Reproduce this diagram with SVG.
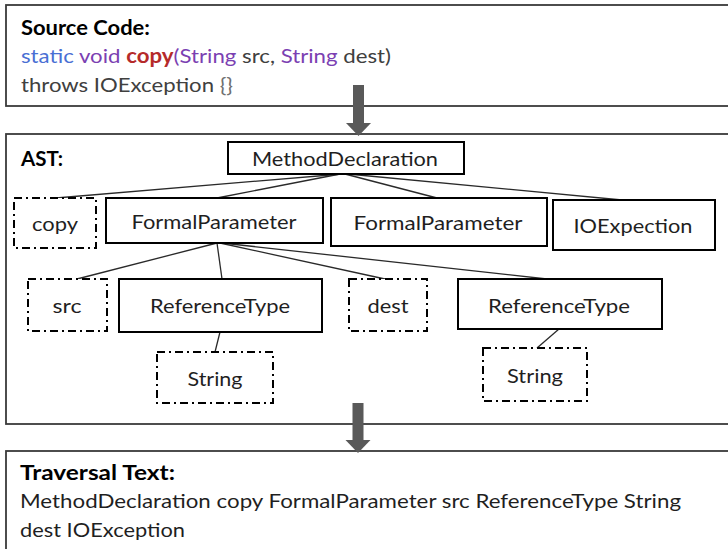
<svg xmlns="http://www.w3.org/2000/svg" width="728" height="549" viewBox="0 0 728 549">
<defs>
<style>
.panel{fill:#fff;stroke:#3a3a3a;stroke-width:1.8}
.node{fill:#fff;stroke:#000;stroke-width:2}
.leaf{fill:#fff;stroke:#000;stroke-width:2;stroke-dasharray:8 4 2 4}
.edge{stroke:#2a2a2a;stroke-width:1.3;fill:none}
.arrow{fill:#595959}
text{font-family:Lato,"Open Sans","Liberation Sans",sans-serif;font-size:20px;fill:#1f1f1f}
.lbl{text-anchor:middle}
.head{font-weight:bold;fill:#000}
</style>
</defs>
<rect width="728" height="549" fill="#fff"/>

<g id="source-panel">
<rect class="panel" x="6" y="5" width="726" height="101"/>
<text class="head" x="21" y="35" textLength="129" lengthAdjust="spacingAndGlyphs">Source Code:</text>
<text x="21" y="63" textLength="370" lengthAdjust="spacingAndGlyphs"><tspan fill="#4a6fd4">static</tspan> <tspan fill="#7b3fb2">void</tspan> <tspan fill="#b52a2a" font-weight="bold">copy</tspan><tspan fill="#7b3fb2">(String</tspan><tspan fill="#404040"> src, </tspan><tspan fill="#7b3fb2">String</tspan><tspan fill="#404040"> dest)</tspan></text>
<text x="21" y="92" fill="#404040" textLength="212" lengthAdjust="spacingAndGlyphs"><tspan fill="#404040">throws IOException </tspan><tspan fill="#707070">{}</tspan></text>
</g>

<g id="ast-panel">
<rect class="panel" x="6" y="134" width="726" height="290"/>
<text class="head" x="21" y="166" textLength="42" lengthAdjust="spacingAndGlyphs">AST:</text>
</g>

<g id="traversal-panel">
<rect class="panel" x="6" y="451" width="726" height="103"/>
<text class="head" x="20" y="480" textLength="155" lengthAdjust="spacingAndGlyphs">Traversal Text:</text>
<text x="20" y="508" fill="#2a2a2a" textLength="661" lengthAdjust="spacingAndGlyphs">MethodDeclaration copy FormalParameter src ReferenceType String</text>
<text x="20" y="537" fill="#2a2a2a" textLength="165" lengthAdjust="spacingAndGlyphs">dest IOException</text>
</g>

<g id="arrows">
<rect class="arrow" x="353" y="85" width="11" height="38"/>
<polygon class="arrow" points="346,123 371,123 358.5,136"/>
<rect class="arrow" x="352.5" y="403" width="11" height="38"/>
<polygon class="arrow" points="345.5,440 370.5,440 358,453"/>
</g>

<g id="connectors">
<line class="edge" x1="342" y1="174" x2="56" y2="198"/>
<line class="edge" x1="340" y1="174" x2="217" y2="198"/>
<line class="edge" x1="345" y1="174" x2="437" y2="198"/>
<line class="edge" x1="348" y1="174" x2="622" y2="200"/>
<line class="edge" x1="217" y1="243" x2="77" y2="279"/>
<line class="edge" x1="217" y1="243" x2="222" y2="279"/>
<line class="edge" x1="220" y1="243" x2="385" y2="279"/>
<line class="edge" x1="222" y1="243" x2="547" y2="279"/>
<line class="edge" x1="220" y1="332" x2="215" y2="352"/>
<line class="edge" x1="559" y1="329" x2="537" y2="348"/>
</g>

<g id="n-methoddeclaration">
<rect class="node" x="228" y="142" width="236" height="32"/>
<text class="lbl" x="345" y="166" textLength="186" lengthAdjust="spacingAndGlyphs">MethodDeclaration</text>
</g>
<g id="n-copy">
<rect class="leaf" x="14" y="198" width="82" height="50"/>
<text class="lbl" x="55" y="231" textLength="46" lengthAdjust="spacingAndGlyphs">copy</text>
</g>
<g id="n-formalparameter1">
<rect class="node" x="106" y="198" width="217" height="45"/>
<text class="lbl" x="214" y="229" textLength="165" lengthAdjust="spacingAndGlyphs">FormalParameter</text>
</g>
<g id="n-formalparameter2">
<rect class="node" x="331" y="198" width="216" height="48"/>
<text class="lbl" x="438" y="230" textLength="169" lengthAdjust="spacingAndGlyphs">FormalParameter</text>
</g>
<g id="n-ioexpection">
<rect class="node" x="553" y="200" width="162" height="50"/>
<text class="lbl" x="633" y="233" textLength="119" lengthAdjust="spacingAndGlyphs">IOExpection</text>
</g>
<g id="n-src">
<rect class="leaf" x="28" y="279" width="79" height="52"/>
<text class="lbl" x="67" y="313" textLength="29" lengthAdjust="spacingAndGlyphs">src</text>
</g>
<g id="n-referencetype1">
<rect class="node" x="119" y="279" width="203" height="53"/>
<text class="lbl" x="220" y="313" textLength="140" lengthAdjust="spacingAndGlyphs">ReferenceType</text>
</g>
<g id="n-string1">
<rect class="leaf" x="157" y="352" width="116" height="51"/>
<text class="lbl" x="215" y="386" textLength="55" lengthAdjust="spacingAndGlyphs">String</text>
</g>
<g id="n-dest">
<rect class="leaf" x="349" y="279" width="78" height="52"/>
<text class="lbl" x="388" y="313" textLength="41" lengthAdjust="spacingAndGlyphs">dest</text>
</g>
<g id="n-referencetype2">
<rect class="node" x="458" y="279" width="204" height="50"/>
<text class="lbl" x="559" y="313" textLength="142" lengthAdjust="spacingAndGlyphs">ReferenceType</text>
</g>
<g id="n-string2">
<rect class="leaf" x="483" y="348" width="104" height="53"/>
<text class="lbl" x="535" y="383" textLength="56" lengthAdjust="spacingAndGlyphs">String</text>
</g>
</svg>
